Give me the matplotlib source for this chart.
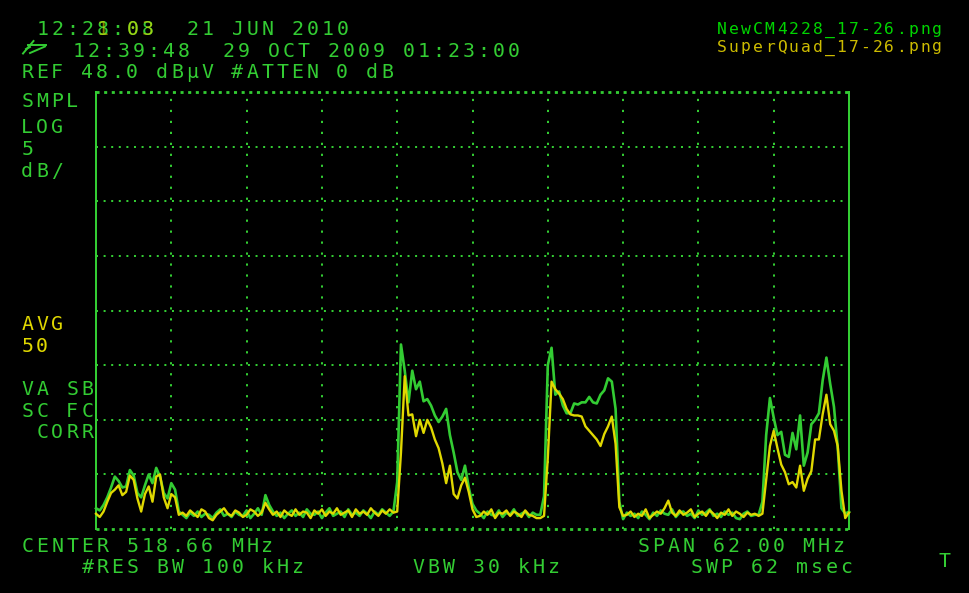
import numpy as np
import matplotlib
matplotlib.use('Agg')
import matplotlib.pyplot as plt

#DATA

#analyzer settings
center_mhz = 518.66
span_mhz = 62.00
ref_level = 48.0
db_per_div = 5
n_div_y = 8
n_div_x = 10

#trace of NewCM4228 (green), dBuV
green_bump = [9.9, 9.7, 10.2, 10.9, 11.8, 12.8, 12.4, 11.8, 11.9, 13.4, 12.9, 11.3,
              10.9, 12.0, 13.0, 12.2, 13.6, 12.8, 11.3, 10.8, 12.2, 11.6, 9.6]
green_floor_a = [9.3, 9.0, 9.5, 9.2, 9.6, 9.1, 9.4, 9.3, 9.0, 9.5,
                 9.8, 9.2, 9.4, 9.1, 9.6, 9.3, 9.2, 9.7, 9.0, 9.4,
                 9.9, 9.3, 11.1, 10.2, 9.6, 9.2, 9.5, 9.0, 9.4, 9.7,
                 9.2, 9.5, 9.1, 9.8, 9.4, 9.3, 9.6, 9.0, 9.5, 9.9,
                 9.2, 9.4, 9.6, 9.1, 9.8, 9.3, 9.5, 9.2, 9.7, 9.4,
                 9.0, 9.6, 9.3, 9.8, 9.5, 9.2, 9.6]
green_block1 = [12.3, 24.9, 22.5, 19.6, 22.5, 20.8, 21.5, 19.7, 19.9, 19.3, 18.4,
                17.8, 18.3, 19.0, 16.6, 15.0, 13.2, 12.5, 13.8, 11.8, 10.3, 9.7]
green_floor_b = [9.4, 9.0, 9.6, 9.3, 9.2, 9.7, 9.1, 9.5, 9.3, 9.8, 9.2, 9.4, 9.6, 9.1, 9.5, 9.3]
green_block2 = [9.3, 11.0, 23.0, 24.6, 20.3, 20.6, 19.3, 18.6, 18.6, 19.5, 19.4, 19.6,
                19.6, 20.1, 19.6, 19.5, 20.3, 20.7, 21.8, 21.5, 19.0, 10.5, 8.9]
green_floor_c = [9.5, 9.2, 9.4, 9.0, 9.6, 9.3, 8.9, 9.5, 9.2, 9.7, 9.4, 9.3, 9.8, 9.1, 9.5,
                 9.6, 9.2, 9.4, 9.0, 9.7, 9.3, 9.5, 9.8, 9.2, 9.4, 9.1, 9.6, 9.3, 9.5, 9.0,
                 8.9, 9.4, 9.6, 9.2, 9.3]
green_block3 = [9.3, 10.5, 16.6, 20.0, 18.2, 16.6, 16.9, 14.8, 14.6, 16.8, 15.3, 18.4, 13.8,
                15.0, 17.6, 18.0, 18.6, 21.6, 23.7, 21.3, 19.2, 15.5, 9.9, 9.4, 9.6]

#trace of SuperQuad (yellow), dBuV
yellow_bump = [9.4, 9.1, 9.6, 10.5, 11.3, 11.6, 12.0, 11.1, 11.4, 12.9, 12.5, 10.8,
               9.6, 11.2, 11.9, 10.5, 12.8, 13.0, 10.9, 9.9, 11.2, 10.9, 9.3]
yellow_floor_a = [9.5, 9.2, 9.7, 9.4, 9.1, 9.8, 9.6, 9.0, 8.8, 9.3,
                  9.6, 9.9, 9.4, 9.2, 9.7, 9.5, 9.1, 9.3, 9.8, 9.6,
                  9.2, 9.5, 10.4, 9.8, 9.3, 9.6, 9.1, 9.7, 9.4, 9.2,
                  9.8, 9.3, 9.6, 9.5, 9.0, 9.7, 9.4, 9.8, 9.2, 9.6,
                  9.4, 9.9, 9.3, 9.5, 9.7, 9.1, 9.8, 9.4, 9.6, 9.3,
                  9.9, 9.5, 9.2, 9.7, 9.4, 9.8, 9.5]
yellow_block1 = [9.6, 15.0, 22.0, 18.4, 18.5, 16.5, 18.0, 16.8, 18.0, 17.3, 16.2,
                 15.4, 14.0, 12.2, 13.8, 11.2, 10.8, 12.0, 12.7, 11.4, 9.8, 9.1]
yellow_floor_b = [9.2, 9.6, 9.3, 9.8, 9.0, 9.5, 9.4, 9.7, 9.2, 9.6, 9.4, 9.1, 9.7, 9.3, 9.2, 9.0]
yellow_block2 = [9.0, 9.2, 14.5, 21.5, 20.8, 20.4, 19.9, 19.0, 18.5, 18.4, 18.4, 18.3,
                 17.4, 17.0, 16.6, 16.2, 15.6, 16.7, 17.4, 18.3, 15.8, 10.0, 9.2]
yellow_floor_c = [9.3, 9.6, 9.1, 9.4, 9.2, 9.8, 9.0, 9.3, 9.6, 9.4, 9.9, 10.6, 9.5, 9.2, 9.7,
                  9.3, 9.5, 9.8, 9.1, 9.4, 9.6, 9.2, 9.7, 9.4, 9.0, 9.5, 9.3, 9.8, 9.2, 9.6,
                  9.4, 9.1, 9.5, 9.3, 9.4]
yellow_block3 = [9.2, 9.4, 12.5, 15.6, 17.0, 15.4, 13.9, 13.2, 12.1, 12.3, 11.8, 13.8, 11.5,
                 12.6, 13.3, 16.2, 16.2, 18.5, 20.3, 17.6, 17.0, 15.6, 11.5, 9.0, 9.5]

green = green_bump + green_floor_a + green_block1 + green_floor_b + green_block2 + green_floor_c + green_block3
yellow = yellow_bump + yellow_floor_a + yellow_block1 + yellow_floor_b + yellow_block2 + yellow_floor_c + yellow_block3

#COLOURS
GRN = '#33cc33'
YEL = '#e0d800'
FILE_GRN = '#00d400'
FILE_YEL = '#ccbb00'

plt.rcParams['lines.scale_dashes'] = False

W, H = 969, 593
fig = plt.figure(figsize=(W / 100, H / 100), dpi=100, facecolor='black')

#plot area in pixels
left, right, top, bottom = 96, 849, 92.3, 529
ax = fig.add_axes([left / W, 1 - bottom / H, (right - left) / W, (bottom - top) / H])
ax.set_facecolor('black')

f0 = center_mhz - span_mhz / 2
f1 = center_mhz + span_mhz / 2
ylo = ref_level - db_per_div * n_div_y
ax.set_xlim(f0, f1)
ax.set_ylim(ylo, ref_level)
ax.set_xticks([])
ax.set_yticks([])
for s in ax.spines.values():
    s.set_visible(False)

#grid
lw = 1.44
for k in range(1, n_div_y):
    ax.axhline(ylo + k * db_per_div, color=GRN, lw=lw, ls=(0, (1.44, 4.03)), dash_capstyle='butt')
for k in range(1, n_div_x):
    ax.axvline(f0 + k * span_mhz / n_div_x, color=GRN, lw=lw, ls=(0, (1.6, 6.3)), dash_capstyle='butt')
ax.axhline(ref_level, color=GRN, lw=lw * 1.4, ls=(0, (2.2, 3.3)), dash_capstyle='butt', clip_on=False)
ax.axhline(ylo, color=GRN, lw=lw * 1.4, ls=(0, (2.2, 3.3)), dash_capstyle='butt', clip_on=False)
ax.axvline(f0, color=GRN, lw=lw, clip_on=False)
ax.axvline(f1, color=GRN, lw=lw, clip_on=False)

#traces
fg = np.linspace(f0, f1, len(green))
fyl = np.linspace(f0, f1, len(yellow))
ax.plot(fg, green, color=GRN, lw=1.9, clip_on=False)
ax.plot(fyl, yellow, color=YEL, lw=1.7, clip_on=False)

#TEXT OVERLAY (pixel coordinates)
ov = fig.add_axes([0, 0, 1, 1])
ov.set_xlim(0, W)
ov.set_ylim(H, 0)
ov.axis('off')
ov.patch.set_alpha(0)

def mono(x0, yb, s, color, alpha=1.0, pitch=15.0, size=14.3, shift=0.37):
    #fixed pitch text, one glyph at a time
    for k, ch in enumerate(s):
        if ch == ' ':
            continue
        ov.text(x0 + k * pitch + pitch * shift, yb, ch, color=color, alpha=alpha, fontsize=size,
                family='DejaVu Sans Mono', ha='center', va='baseline')

mono(37, 35, '12:28:08  21 JUN 2010', GRN)
mono(37, 35, '    1 03', YEL, alpha=0.6)
mono(73, 56.7, '12:39:48  29 OCT 2009 01:23:00', GRN)
mono(21.7, 78, 'REF 48.0 dB\u00b5V #ATTEN 0 dB', GRN)

mono(21.7, 107, 'SMPL', GRN)
mono(21.7, 133, 'LOG', GRN)
mono(21.7, 155, '5', GRN)
mono(21.7, 177, 'dB/', GRN)
mono(21.7, 330, 'AVG', YEL)
mono(21.7, 352, '50', YEL)
mono(21.7, 395, 'VA SB', GRN)
mono(21.7, 417, 'SC FC', GRN)
mono(21.7, 438, ' CORR', GRN)

mono(21.7, 552, 'CENTER 518.66 MHz', GRN)
mono(638, 552, 'SPAN 62.00 MHz', GRN)
mono(82, 573, '#RES BW 100 kHz', GRN)
mono(413, 573, 'VBW 30 kHz', GRN)
mono(691, 573, 'SWP 62 msec', GRN)
mono(939, 567, 'T', GRN)

#small probe icon left of second line
ov.plot([23, 33.5], [53.5, 41], color=GRN, lw=1.4)
ov.plot([28, 46.5], [45, 45], color=GRN, lw=1.4)
ov.plot([30, 45], [53, 46.5], color=GRN, lw=1.4)
ov.plot([26, 30], [49, 47], color=GRN, lw=1.4)

#file names
mono(716, 34, 'NewCM4228_17-26.png', FILE_GRN, pitch=11.95, size=11.8, shift=0.5)
mono(716, 51.5, 'SuperQuad_17-26.png', FILE_YEL, pitch=11.95, size=11.8, shift=0.5)

fig.savefig('out.png', dpi=100, facecolor='black')
